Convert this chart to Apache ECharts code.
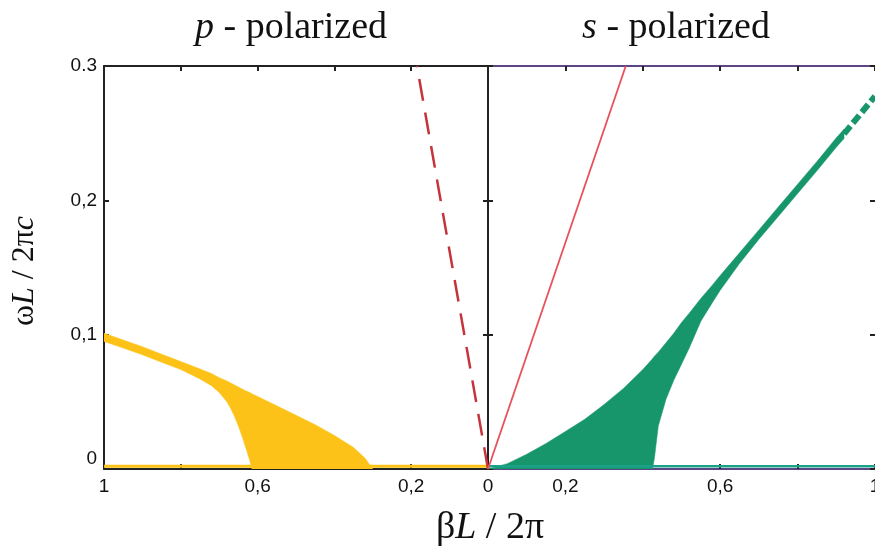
<!DOCTYPE html>
<html><head><meta charset="utf-8">
<script src="https://cdn.jsdelivr.net/npm/echarts@6/dist/echarts.min.js"></script>
<style>html,body{margin:0;padding:0;background:#fff}#c{width:875px;height:554px}</style>
</head><body><div id="c"></div>
<script>
// ---- p-polarized (left panel, beta axis reversed) ----
const betaP  = [0.30, 0.31, 0.32, 0.35, 0.40, 0.45, 0.50, 0.55, 0.60, 0.615, 0.62, 0.63, 0.64, 0.65, 0.66, 0.67, 0.68, 0.70, 0.72, 0.75, 0.80, 0.85, 0.90, 0.95, 1.00];
const upperP = [0, 0.004, 0.008, 0.016, 0.025, 0.033, 0.040, 0.047, 0.054, 0.056, 0.057, 0.058, 0.0595, 0.061, 0.0625, 0.064, 0.0655, 0.068, 0.071, 0.0745, 0.080, 0.0855, 0.091, 0.096, 0.101];
const lowerP = [0, 0, 0, 0, 0, 0, 0, 0, 0, 0, 0.006, 0.015, 0.024, 0.032, 0.039, 0.045, 0.050, 0.057, 0.062, 0.067, 0.074, 0.0795, 0.085, 0.090, 0.095];
const lightP_beta  = [0, 0.185];
const lightP_omega = [0, 0.3];
const baseP_beta  = [0, 1];
const baseP_omega = [0.002, 0.002];

// ---- s-polarized (right panel) ----
const betaS  = [0, 0.05, 0.10, 0.15, 0.20, 0.25, 0.30, 0.35, 0.40, 0.425, 0.43, 0.44, 0.46, 0.48, 0.50, 0.52, 0.55, 0.58, 0.60, 0.65, 0.70, 0.75, 0.80, 0.85, 0.90, 0.92];
const upperS = [0, 0.004, 0.011, 0.019, 0.028, 0.037, 0.048, 0.060, 0.074, 0.082, 0.084, 0.087, 0.094, 0.101, 0.109, 0.116, 0.127, 0.137, 0.144, 0.161, 0.178, 0.195, 0.212, 0.229, 0.2465, 0.253];
const lowerS = [0, 0, 0, 0, 0, 0, 0, 0, 0, 0, 0.008, 0.032, 0.052, 0.066, 0.078, 0.090, 0.110, 0.124, 0.133, 0.153, 0.171, 0.188, 0.205, 0.222, 0.2395, 0.246];
const tailS_beta  = [0.92, 0.96, 1.00];
const tailS_omega = [0.2495, 0.2635, 0.2775];
const lightS_beta  = [0, 0.356];
const lightS_omega = [0, 0.3];
const baseS_beta  = [0, 1];
const baseS_omega = [0.002, 0.002];

// ---- tick labels ----
const yTickValues = [0, 0.1, 0.2, 0.3];
const yTickText   = ['0', '0,1', '0,2', '0.3'];
const xTickValuesL = [0, 0.2, 0.6, 1];
const xTickTextL   = ['0', '0,2', '0,6', '1'];
const xTickValuesR = [0.2, 0.6, 1];
const xTickTextR   = ['0,2', '0,6', '1'];

const pairs = (xs, ys) => xs.map((x, i) => [x, ys[i]]);
const near = (v, list) => list.findIndex(t => Math.abs(t - v) < 1e-6);

const YELLOW = '#fdc218', GREEN = '#17966c', DRED = '#c4343a', LRED = '#e8505c', PURPLE = '#5e4584', BLACK = '#222';
const labelFont = {fontFamily: 'Liberation Sans', fontSize: 19, color: '#111'};

function xAxisDef(grid, pos, inverse, lineColor, labelVals, labelText) {
  return {
    gridIndex: grid, type: 'value', min: 0, max: 1, interval: 0.2, inverse: inverse, position: pos,
    axisLine: {show: true, onZero: false, lineStyle: {color: lineColor, width: 2}},
    axisTick: {show: true, inside: true, length: 5, lineStyle: {color: BLACK, width: 2}},
    splitLine: {show: false},
    axisLabel: labelVals ? Object.assign({show: true, margin: 8, showMinLabel: true, showMaxLabel: true, hideOverlap: false,
      formatter: v => { const k = near(v, labelVals); return k >= 0 ? labelText[k] : ''; }}, labelFont) : {show: false}
  };
}
function yAxisDef(grid, pos, lineColor, withLabels, showLine) {
  return {
    gridIndex: grid, type: 'value', min: 0, max: 0.3, interval: 0.1, position: pos,
    axisLine: {show: showLine !== false, onZero: false, lineStyle: {color: lineColor, width: 2}},
    axisTick: {show: true, inside: true, length: 5, lineStyle: {color: BLACK, width: 2}},
    splitLine: {show: false},
    axisLabel: withLabels ? Object.assign({show: true, margin: 7,
      formatter: v => { const k = near(v, yTickValues); if (k < 0) return ''; return k === 0 ? '{z|' + yTickText[k] + '}' : yTickText[k]; },
      rich: {z: {fontFamily: 'Liberation Sans', fontSize: 19, color: '#111', padding: [0, 0, 20, 0]}}}, labelFont) : {show: false}
  };
}

// band polygon drawn through the axes' own coordinate conversion
function bandSeries(xi, yi, betas, upper, lower, color) {
  return {
    type: 'custom', coordinateSystem: 'cartesian2d', xAxisIndex: xi, yAxisIndex: yi, z: 2,
    clip: true, silent: true,
    data: [[betas[0], upper[0]]],
    renderItem: function (params, api) {
      const pts = [];
      for (let i = 0; i < betas.length; i++) pts.push(api.coord([betas[i], upper[i]]));
      for (let i = betas.length - 1; i >= 0; i--) pts.push(api.coord([betas[i], lower[i]]));
      return {type: 'polygon', shape: {points: pts, smooth: 0}, style: {fill: color, stroke: color, lineWidth: 0.5}};
    }
  };
}

const chart = echarts.init(document.getElementById('c'), null, {renderer: 'canvas'});
chart.setOption({
  animation: false,
  backgroundColor: '#fff',
  grid: [
    {left: 104, top: 66, width: 384, height: 403, outerBoundsMode: 'none', containLabel: false},
    {left: 488, top: 66, width: 387, height: 403, outerBoundsMode: 'none', containLabel: false}
  ],
  xAxis: [
    xAxisDef(0, 'bottom', true, BLACK, xTickValuesL, xTickTextL),
    xAxisDef(0, 'top', true, BLACK, null, null),
    xAxisDef(1, 'bottom', false, PURPLE, xTickValuesR, xTickTextR),
    xAxisDef(1, 'top', false, PURPLE, null, null)
  ],
  yAxis: [
    yAxisDef(0, 'left', BLACK, true),
    yAxisDef(0, 'right', BLACK, false),
    yAxisDef(1, 'left', BLACK, false),
    yAxisDef(1, 'right', PURPLE, false, false)
  ],
  series: [
    {type: 'line', xAxisIndex: 0, yAxisIndex: 0, data: pairs(baseP_beta, baseP_omega), symbol: 'none',
     lineStyle: {color: YELLOW, width: 3}, z: 3},
    bandSeries(0, 0, betaP, upperP, lowerP, YELLOW),
    {type: 'line', xAxisIndex: 0, yAxisIndex: 0, data: pairs(lightP_beta, lightP_omega), symbol: 'none',
     lineStyle: {color: DRED, width: 2.5, type: [22, 12]}, z: 4},

    {type: 'line', xAxisIndex: 2, yAxisIndex: 2, data: pairs(baseS_beta, baseS_omega), symbol: 'none',
     lineStyle: {color: '#1aa38a', width: 2.5}, z: 3},
    bandSeries(2, 2, betaS, upperS, lowerS, GREEN),
    {type: 'line', xAxisIndex: 2, yAxisIndex: 2, data: pairs(tailS_beta, tailS_omega), symbol: 'none',
     lineStyle: {color: GREEN, width: 6, type: [10, 4]}, z: 2},
    {type: 'line', xAxisIndex: 2, yAxisIndex: 2, data: pairs(lightS_beta, lightS_omega), symbol: 'none',
     lineStyle: {color: LRED, width: 1.8}, z: 4}
  ],
  graphic: [
    {type: 'text', x: 291, y: 28, style: {text: '{i|p} - polarized', align: 'center', verticalAlign: 'middle',
      font: '38px "Liberation Serif"', fill: '#111',
      rich: {i: {fontFamily: 'Liberation Serif', fontStyle: 'italic', fontSize: 38, fill: '#111'}}}},
    {type: 'text', x: 676, y: 28, style: {text: '{i|s} - polarized', align: 'center', verticalAlign: 'middle',
      font: '38px "Liberation Serif"', fill: '#111',
      rich: {i: {fontFamily: 'Liberation Serif', fontStyle: 'italic', fontSize: 38, fill: '#111'}}}},
    {type: 'text', x: 490, y: 528, style: {text: 'β{i|L} / 2π', align: 'center', verticalAlign: 'middle',
      font: '38px "Liberation Serif"', fill: '#111',
      rich: {i: {fontFamily: 'Liberation Serif', fontStyle: 'italic', fontSize: 38, fill: '#111'}}}},
    {type: 'text', x: 25, y: 271, rotation: Math.PI / 2, style: {text: 'ω{i|L} / 2π{i|c}', align: 'center', verticalAlign: 'middle',
      font: '32px "Liberation Serif"', fill: '#111',
      rich: {i: {fontFamily: 'Liberation Serif', fontStyle: 'italic', fontSize: 32, fill: '#111'}}}}
  ]
});
</script>
</body></html>
